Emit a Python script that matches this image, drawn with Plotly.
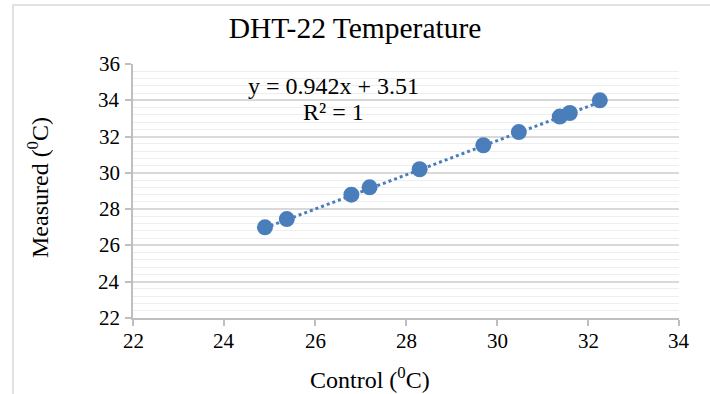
import plotly.graph_objects as go

control = [24.9, 25.38, 26.8, 27.2, 28.3, 29.7, 30.48, 31.38, 31.6, 32.26]
measured = [27.0, 27.45, 28.8, 29.2, 30.2, 31.52, 32.25, 33.1, 33.3, 34.0]
slope = 0.942
intercept = 3.51
x_ticks = [22, 24, 26, 28, 30, 32, 34]
y_ticks = [22, 24, 26, 28, 30, 32, 34, 36]

blue = "#4a7ebb"
serif = "Liberation Serif"

trend_x = [min(control), max(control)]
trend_y = [slope * v + intercept for v in trend_x]

fig = go.Figure()
fig.add_trace(go.Scatter(x=trend_x, y=trend_y, mode="lines",
                         line=dict(color=blue, width=3, dash="dot"),
                         hoverinfo="skip", showlegend=False))
fig.add_trace(go.Scatter(x=control, y=measured, mode="markers",
                         marker=dict(color=blue, size=16, line=dict(width=0)),
                         showlegend=False))

tick_font = dict(size=21, family=serif, color="#000000")
annotations = []
for v in x_ticks:
    annotations.append(dict(text=str(v), x=v, y=0, xref="x", yref="paper",
                            showarrow=False, xanchor="center", yanchor="middle",
                            yshift=-23, font=tick_font))
for v in y_ticks:
    annotations.append(dict(text=str(v), x=0, y=v, xref="paper", yref="y",
                            showarrow=False, xanchor="right", yanchor="middle",
                            xshift=-11, font=tick_font))
annotations += [
    dict(text="y = 0.942x + 3.51", x=26.4, y=34.79, xref="x", yref="y",
         showarrow=False, font=dict(size=24, family=serif, color="#000000")),
    dict(text="R² = 1", x=26.4, y=33.36, xref="x", yref="y",
         showarrow=False, font=dict(size=24, family=serif, color="#000000")),
    dict(text="Control (<sup>0</sup>C)", x=(370 - 133) / 546, y=(318 - 378) / 254,
         xref="paper", yref="paper", showarrow=False, yanchor="middle",
         font=dict(size=24, family=serif, color="#000000")),
    dict(text="Measured (<sup>0</sup>C)", x=(38 - 133) / 546, y=(318 - 188) / 254,
         xref="paper", yref="paper", showarrow=False, textangle=-90,
         xanchor="center", yanchor="middle",
         font=dict(size=24, family=serif, color="#000000")),
]

fig.update_layout(
    template="none",
    width=710, height=394,
    margin=dict(l=133, r=31, t=64, b=76),
    paper_bgcolor="white", plot_bgcolor="white",
    title=dict(text="DHT-22 Temperature", x=0.5, xanchor="center",
               y=1 - 28 / 394, yanchor="middle", yref="container",
               font=dict(size=29.5, family=serif, color="#000000")),
    xaxis=dict(range=[22, 34], tickvals=x_ticks, showticklabels=False,
               showgrid=False, zeroline=False,
               showline=True, linecolor="#bfbfbf", linewidth=1.5,
               ticks="outside", ticklen=6, tickcolor="#bfbfbf", tickwidth=1.5),
    yaxis=dict(range=[22, 36], tickvals=y_ticks, showticklabels=False,
               showgrid=True, gridcolor="#d9d9d9", gridwidth=1.5, zeroline=False,
               showline=True, linecolor="#bfbfbf", linewidth=1.5,
               ticks="outside", ticklen=6, tickcolor="#bfbfbf", tickwidth=1.5,
               minor=dict(dtick=0.4, showgrid=True, gridcolor="#eeeeee", gridwidth=1.2)),
    annotations=annotations,
    shapes=[
        dict(type="rect", xref="paper", yref="paper",
             x0=(13 - 133) / 546, x1=(730 - 133) / 546,
             y0=(318 - 420) / 254, y1=1 + (64 - 5) / 254,
             line=dict(color="#d9d9d9", width=1.5), layer="below"),
    ],
)

fig.write_html("out.html")
